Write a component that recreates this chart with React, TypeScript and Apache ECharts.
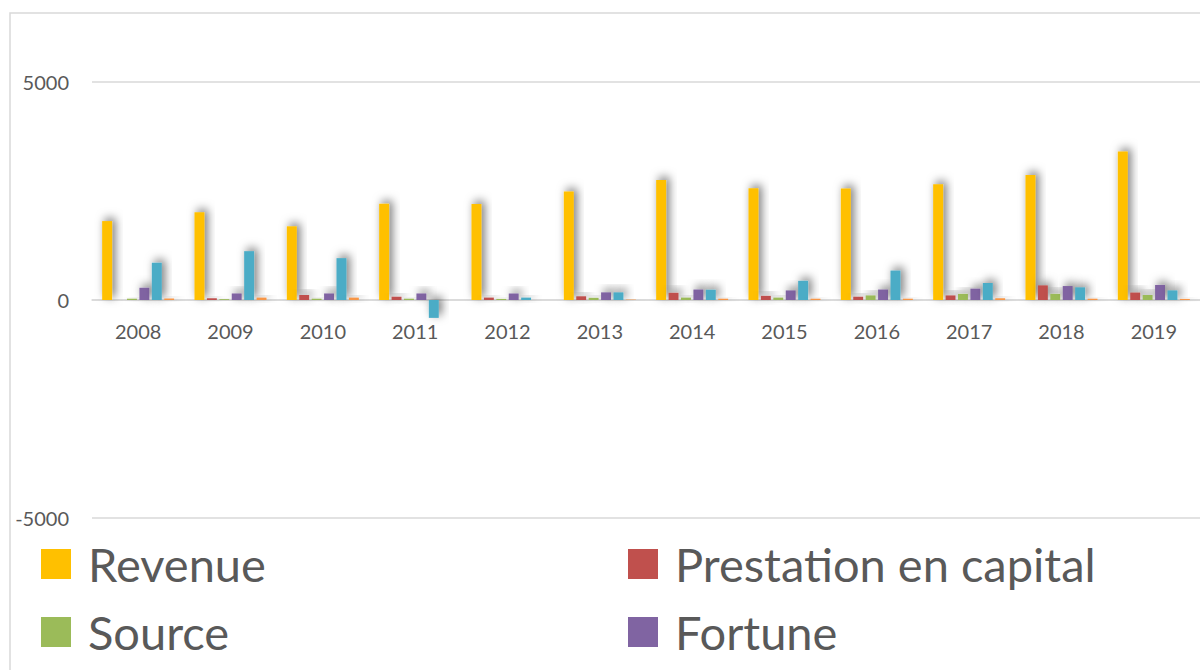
import React, { useEffect, useRef } from "react";
import * as echarts from "echarts";

const years = ["2008", "2009", "2010", "2011", "2012", "2013", "2014", "2015", "2016", "2017", "2018", "2019"];
const revenue = [1810, 2010, 1690, 2210, 2200, 2490, 2750, 2565, 2555, 2655, 2865, 3405];
const prestation = [0, 40, 115, 75, 55, 85, 165, 95, 75, 105, 335, 170];
const source = [30, 20, 30, 30, 25, 50, 55, 55, 105, 140, 140, 115];
const fortune = [280, 150, 150, 150, 150, 175, 240, 220, 240, 260, 320, 345];
const rendement = [855, 1120, 960, -410, 55, 175, 235, 440, 675, 390, 290, 220];
const impot = [35, 55, 55, 0, 0, 10, 30, 30, 30, 40, 30, 25];

const seriesNames = ["Revenue", "Prestation en capital", "Source", "Fortune", "Rendement", "Impôt"];
const seriesData = [revenue, prestation, source, fortune, rendement, impot];
const colors = ["#FFC000", "#C0504D", "#9BBB59", "#8064A2", "#4BACC6", "#F79646"];
const legendCol1 = ["Revenue", "Source"];
const legendCol2 = ["Prestation en capital", "Fortune"];
const yTicks = { min: -5000, max: 5000, interval: 5000 };

const FONT = "Lato, 'Open Sans', sans-serif";

const legendBase = {
  orient: "vertical",
  top: 536,
  height: 400,
  padding: 0,
  icon: "rect",
  itemWidth: 30,
  itemHeight: 30,
  itemGap: 12,
  textStyle: {
    color: "#595959",
    fontSize: 47,
    lineHeight: 56,
    fontFamily: FONT,
    padding: [0, 0, 0, 12],
  },
};

export default function App() {
  const ref = useRef<HTMLDivElement>(null);
  useEffect(() => {
    document.body.style.margin = "0";
    const chart = echarts.init(ref.current!, null, { renderer: "svg" });
    chart.setOption({
      animation: false,
      backgroundColor: "#ffffff",
      color: colors,
      textStyle: { fontFamily: FONT },
      graphic: [
        {
          type: "rect",
          shape: { x: 10, y: 13, width: 1300, height: 800 },
          style: { fill: "none", stroke: "#d9d9d9", lineWidth: 1.5 },
          silent: true,
          z: -1,
        },
      ],
      grid: { left: 92, top: 82, width: 1123, height: 436 },
      xAxis: {
        type: "category",
        data: years,
        position: "bottom",
        offset: -218,
        axisLine: { onZero: false, lineStyle: { color: "#d9d9d9", width: 1.5 } },
        axisTick: { show: false },
        axisLabel: { color: "#595959", fontSize: 20, fontFamily: FONT, margin: 21 },
      },
      yAxis: {
        type: "value",
        min: yTicks.min,
        max: yTicks.max,
        interval: yTicks.interval,
        axisLine: { show: false },
        axisTick: { show: false },
        splitLine: { lineStyle: { color: "#d9d9d9", width: 1.5 } },
        axisLabel: {
          color: "#595959",
          fontSize: 20,
          fontFamily: FONT,
          margin: 23,
          formatter: (v: number) => String(v),
        },
      },
      legend: [
        { ...legendBase, left: 41, data: legendCol1 },
        { ...legendBase, left: 628, data: legendCol2 },
      ],
      series: seriesNames.map((name, i) => ({
        name,
        type: "bar",
        data: seriesData[i],
        barGap: "25%",
        barCategoryGap: "22%",
        itemStyle: {
          color: colors[i],
          shadowColor: "rgba(0,0,0,0.55)",
          shadowBlur: 10,
          shadowOffsetX: 3,
          shadowOffsetY: -3,
        },
      })),
    });
    return () => chart.dispose();
  }, []);
  return <div ref={ref} style={{ position: "fixed", left: 0, top: 0, width: 1200, height: 670 }} />;
}
